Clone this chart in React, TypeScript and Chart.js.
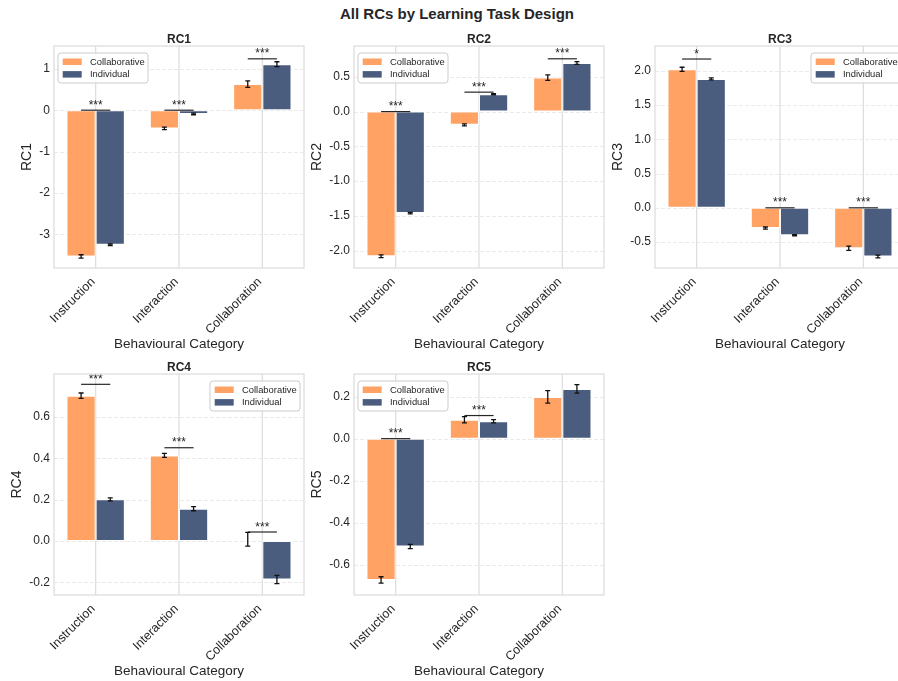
import React, { useEffect, useRef } from 'react';
import { Chart, registerables } from 'chart.js';

Chart.register(...registerables);

// ---------------- data ----------------
const categories = ['Instruction', 'Interaction', 'Collaboration'];
const seriesNames = ['Collaborative', 'Individual'];
const suptitle = 'All RCs by Learning Task Design';
const xAxisTitle = 'Behavioural Category';

const rc1Collab = [-3.53, -0.44, 0.63];
const rc1CollabErr = [0.04, 0.03, 0.08];
const rc1Indiv = [-3.25, -0.09, 1.11];
const rc1IndivErr = [0.02, 0.02, 0.06];
const rc1SigY = [0.0, 0.0, 1.24];
const rc1SigLabel = ['***', '***', '***'];
const rc1Ticks = [-3, -2, -1, 0, 1];
const rc1Range = [-3.81, 1.55];

const rc2Collab = [-2.08, -0.19, 0.49];
const rc2CollabErr = [0.02, 0.015, 0.04];
const rc2Indiv = [-1.46, 0.25, 0.7];
const rc2IndivErr = [0.01, 0.01, 0.02];
const rc2SigY = [0.0, 0.28, 0.76];
const rc2SigLabel = ['***', '***', '***'];
const rc2Ticks = [-2.0, -1.5, -1.0, -0.5, 0.0, 0.5];
const rc2Range = [-2.25, 0.944];

const rc3Collab = [2.02, -0.295, -0.59];
const rc3CollabErr = [0.03, 0.015, 0.03];
const rc3Indiv = [1.88, -0.4, -0.71];
const rc3IndivErr = [0.015, 0.01, 0.02];
const rc3SigY = [2.17, 0.0, 0.0];
const rc3SigLabel = ['*', '***', '***'];
const rc3Ticks = [-0.5, 0.0, 0.5, 1.0, 1.5, 2.0];
const rc3Range = [-0.878, 2.36];

const rc4Collab = [0.704, 0.415, 0.009];
const rc4CollabErr = [0.013, 0.01, 0.033];
const rc4Indiv = [0.202, 0.157, -0.186];
const rc4IndivErr = [0.007, 0.01, 0.02];
const rc4SigY = [0.759, 0.452, 0.044];
const rc4SigLabel = ['***', '***', '***'];
const rc4Ticks = [-0.2, 0.0, 0.2, 0.4, 0.6];
const rc4Range = [-0.261, 0.809];

const rc5Collab = [-0.673, 0.09, 0.199];
const rc5CollabErr = [0.015, 0.015, 0.03];
const rc5Indiv = [-0.514, 0.083, 0.237];
const rc5IndivErr = [0.01, 0.008, 0.02];
const rc5SigY = [0.0, 0.11, null];
const rc5SigLabel = ['***', '***', ''];
const rc5Ticks = [-0.6, -0.4, -0.2, 0.0, 0.2];
const rc5Range = [-0.745, 0.308];

// ---------------- style ----------------
const FONT = '"Liberation Sans", Arial, Helvetica, sans-serif';
const TEXT = '#262626';
const COLORS = ['#FFA263', '#4A5D7E'];
const Y_AXIS_W = 54;
const TOP_PAD = 46;
const X_AXIS_H = 90;
const RIGHT_PAD = 8;
const PLOT_W = 250;

type Panel = {
  name: string;
  collab: number[];
  collabErr: number[];
  indiv: number[];
  indivErr: number[];
  sigY: (number | null)[];
  sigLabel: string[];
  ticks: number[];
  range: number[];
  decimals: number;
  legend: 'left' | 'right';
  left: number;
  top: number;
  h: number;
};

const panels: Panel[] = [
  { name: 'RC1', collab: rc1Collab, collabErr: rc1CollabErr, indiv: rc1Indiv, indivErr: rc1IndivErr, sigY: rc1SigY, sigLabel: rc1SigLabel, ticks: rc1Ticks, range: rc1Range, decimals: 0, legend: 'left', left: 54, top: 46, h: 222 },
  { name: 'RC2', collab: rc2Collab, collabErr: rc2CollabErr, indiv: rc2Indiv, indivErr: rc2IndivErr, sigY: rc2SigY, sigLabel: rc2SigLabel, ticks: rc2Ticks, range: rc2Range, decimals: 1, legend: 'left', left: 354, top: 46, h: 222 },
  { name: 'RC3', collab: rc3Collab, collabErr: rc3CollabErr, indiv: rc3Indiv, indivErr: rc3IndivErr, sigY: rc3SigY, sigLabel: rc3SigLabel, ticks: rc3Ticks, range: rc3Range, decimals: 1, legend: 'right', left: 655, top: 46, h: 222 },
  { name: 'RC4', collab: rc4Collab, collabErr: rc4CollabErr, indiv: rc4Indiv, indivErr: rc4IndivErr, sigY: rc4SigY, sigLabel: rc4SigLabel, ticks: rc4Ticks, range: rc4Range, decimals: 1, legend: 'right', left: 54, top: 374, h: 221 },
  { name: 'RC5', collab: rc5Collab, collabErr: rc5CollabErr, indiv: rc5Indiv, indivErr: rc5IndivErr, sigY: rc5SigY, sigLabel: rc5SigLabel, ticks: rc5Ticks, range: rc5Range, decimals: 1, legend: 'left', left: 354, top: 374, h: 221 },
];

function fmt(v: number, d: number) {
  return v.toFixed(d);
}

function makePlugin(p: Panel) {
  return {
    id: 'panelDecor' + p.name,
    beforeDatasetsDraw(chart: any) {
      const { ctx, chartArea: a, scales } = chart;
      const x = scales.x;
      const y = scales.y;
      ctx.save();
      ctx.strokeStyle = 'rgba(0,0,0,0.08)';
      ctx.lineWidth = 1;
      ctx.setLineDash([4, 2]);
      for (const t of p.ticks) {
        const py = Math.round(y.getPixelForValue(t)) + 0.5;
        ctx.beginPath();
        ctx.moveTo(a.left, py);
        ctx.lineTo(a.right, py);
        ctx.stroke();
      }
      ctx.setLineDash([]);
      ctx.strokeStyle = '#dcdcdc';
      ctx.lineWidth = 1.2;
      for (let i = 0; i < categories.length; i++) {
        const px = x.getPixelForValue(i);
        ctx.beginPath();
        ctx.moveTo(px, a.top);
        ctx.lineTo(px, a.bottom);
        ctx.stroke();
      }
      ctx.restore();
    },
    afterDatasetsDraw(chart: any) {
      const { ctx, scales } = chart;
      const y = scales.y;
      ctx.save();
      const means = [p.collab, p.indiv];
      const errs = [p.collabErr, p.indivErr];
      ctx.strokeStyle = '#111111';
      ctx.lineWidth = 1.3;
      for (let d = 0; d < 2; d++) {
        const meta = chart.getDatasetMeta(d);
        for (let i = 0; i < categories.length; i++) {
          const bx = meta.data[i].x;
          const y1 = y.getPixelForValue(means[d][i] + errs[d][i]);
          const y2 = y.getPixelForValue(means[d][i] - errs[d][i]);
          ctx.beginPath();
          ctx.moveTo(bx, y1);
          ctx.lineTo(bx, y2);
          ctx.moveTo(bx - 2.5, y1);
          ctx.lineTo(bx + 2.5, y1);
          ctx.moveTo(bx - 2.5, y2);
          ctx.lineTo(bx + 2.5, y2);
          ctx.stroke();
        }
      }
      const m0 = chart.getDatasetMeta(0);
      const m1 = chart.getDatasetMeta(1);
      for (let i = 0; i < categories.length; i++) {
        const sy = p.sigY[i];
        if (sy === null || !p.sigLabel[i]) continue;
        const x1 = m0.data[i].x;
        const x2 = m1.data[i].x;
        const py = y.getPixelForValue(sy);
        ctx.strokeStyle = 'rgba(0,0,0,0.85)';
        ctx.lineWidth = 1.2;
        ctx.beginPath();
        ctx.moveTo(x1, py);
        ctx.lineTo(x2, py);
        ctx.stroke();
        ctx.fillStyle = TEXT;
        ctx.font = `12px ${FONT}`;
        ctx.textAlign = 'center';
        ctx.textBaseline = 'alphabetic';
        ctx.fillText(p.sigLabel[i], (x1 + x2) / 2, py - 1.5);
      }
      ctx.restore();
    },
    afterDraw(chart: any) {
      const { ctx, chartArea: a, scales } = chart;
      const x = scales.x;
      ctx.save();
      ctx.strokeStyle = '#dddddd';
      ctx.lineWidth = 1.25;
      ctx.strokeRect(a.left, a.top, a.right - a.left, a.bottom - a.top);

      // legend
      const lw = 90;
      const lh = 30;
      const lx = p.legend === 'left' ? a.left + 4 : a.right - 4 - lw;
      const ly = a.top + 7;
      ctx.beginPath();
      const r = 3;
      ctx.moveTo(lx + r, ly);
      ctx.lineTo(lx + lw - r, ly);
      ctx.quadraticCurveTo(lx + lw, ly, lx + lw, ly + r);
      ctx.lineTo(lx + lw, ly + lh - r);
      ctx.quadraticCurveTo(lx + lw, ly + lh, lx + lw - r, ly + lh);
      ctx.lineTo(lx + r, ly + lh);
      ctx.quadraticCurveTo(lx, ly + lh, lx, ly + lh - r);
      ctx.lineTo(lx, ly + r);
      ctx.quadraticCurveTo(lx, ly, lx + r, ly);
      ctx.closePath();
      ctx.fillStyle = 'rgba(255,255,255,0.85)';
      ctx.fill();
      ctx.strokeStyle = '#cccccc';
      ctx.lineWidth = 1;
      ctx.stroke();
      ctx.font = `9.4px ${FONT}`;
      ctx.textAlign = 'left';
      ctx.textBaseline = 'middle';
      for (let k = 0; k < 2; k++) {
        const cy = ly + 8.7 + k * 12.6;
        ctx.fillStyle = COLORS[k];
        ctx.fillRect(lx + 4.7, cy - 3.2, 19, 6.5);
        ctx.fillStyle = TEXT;
        ctx.fillText(seriesNames[k], lx + 32, cy + 0.5);
      }

      // rotated category labels
      ctx.fillStyle = TEXT;
      ctx.font = `12.5px ${FONT}`;
      ctx.textAlign = 'right';
      ctx.textBaseline = 'middle';
      for (let i = 0; i < categories.length; i++) {
        const px = x.getPixelForValue(i);
        ctx.save();
        ctx.translate(px - 2.5, a.bottom + 12);
        ctx.rotate(-Math.PI / 4);
        ctx.fillText(categories[i], 0, 0);
        ctx.restore();
      }

      const cx = (a.left + a.right) / 2;
      ctx.fillStyle = TEXT;
      ctx.font = `bold 12px ${FONT}`;
      ctx.textAlign = 'center';
      ctx.textBaseline = 'middle';
      ctx.fillText(p.name, cx, a.top - 6.5);

      ctx.font = `13.5px ${FONT}`;
      ctx.fillText(xAxisTitle, cx, a.bottom + 76);

      ctx.font = `12px ${FONT}`;
      let maxW = 0;
      for (const t of p.ticks) maxW = Math.max(maxW, ctx.measureText(fmt(t, p.decimals)).width);
      const tx = a.left - 4 - maxW - 12;
      ctx.font = `14px ${FONT}`;
      ctx.translate(tx, (a.top + a.bottom) / 2);
      ctx.rotate(-Math.PI / 2);
      ctx.fillText(p.name, 0, 0);
      ctx.restore();
    },
  };
}

function PanelChart({ p }: { p: Panel }) {
  const ref = useRef<HTMLCanvasElement | null>(null);
  const cw = Y_AXIS_W + PLOT_W + RIGHT_PAD;
  const chH = TOP_PAD + p.h + X_AXIS_H;
  useEffect(() => {
    if (!ref.current) return;
    const chart = new Chart(ref.current, {
      type: 'bar',
      data: {
        labels: categories,
        datasets: [
          {
            label: seriesNames[0],
            data: p.collab,
            backgroundColor: COLORS[0],
            borderColor: 'rgba(255,255,255,0.75)',
            borderWidth: 1,
            borderSkipped: false,
            categoryPercentage: 0.7,
            barPercentage: 1.0,
          },
          {
            label: seriesNames[1],
            data: p.indiv,
            backgroundColor: COLORS[1],
            borderColor: 'rgba(255,255,255,0.75)',
            borderWidth: 1,
            borderSkipped: false,
            categoryPercentage: 0.7,
            barPercentage: 1.0,
          },
        ],
      },
      options: {
        responsive: false,
        animation: false,
        devicePixelRatio: 1,
        layout: { padding: { left: 0, top: TOP_PAD, right: RIGHT_PAD, bottom: 0 } },
        plugins: {
          legend: { display: false },
          title: { display: false },
          tooltip: { enabled: false },
        },
        scales: {
          x: {
            type: 'category',
            offset: true,
            grid: { display: false, drawTicks: false, offset: false },
            border: { display: false },
            ticks: { display: false, autoSkip: false },
            afterFit: (s: any) => {
              s.height = X_AXIS_H;
            },
          },
          y: {
            type: 'linear',
            min: p.range[0],
            max: p.range[1],
            grid: { display: false, drawTicks: false },
            border: { display: false },
            ticks: {
              padding: 4,
              color: TEXT,
              font: { family: FONT, size: 12 },
              callback: (v: any) => fmt(Number(v), p.decimals),
            },
            afterBuildTicks: (s: any) => {
              s.ticks = p.ticks.map((v) => ({ value: v }));
            },
            afterFit: (s: any) => {
              s.width = Y_AXIS_W;
            },
          },
        },
      },
      plugins: [makePlugin(p)],
    } as any);
    return () => chart.destroy();
  }, [p]);
  return (
    <canvas
      ref={ref}
      width={cw}
      height={chH}
      style={{
        position: 'absolute',
        left: p.left - Y_AXIS_W,
        top: p.top - TOP_PAD,
        width: cw,
        height: chH,
      }}
    />
  );
}

export default function App() {
  return (
    <div
      style={{
        position: 'fixed',
        left: 0,
        top: 0,
        width: 898,
        height: 681,
        overflow: 'hidden',
        background: '#ffffff',
      }}
    >
      <div
        style={{
          position: 'absolute',
          left: 0,
          top: 5,
          width: 914,
          textAlign: 'center',
          font: `bold 15px ${FONT}`,
          lineHeight: '18px',
          color: TEXT,
        }}
      >
        {suptitle}
      </div>
      {panels.map((p) => (
        <PanelChart key={p.name} p={p} />
      ))}
    </div>
  );
}
